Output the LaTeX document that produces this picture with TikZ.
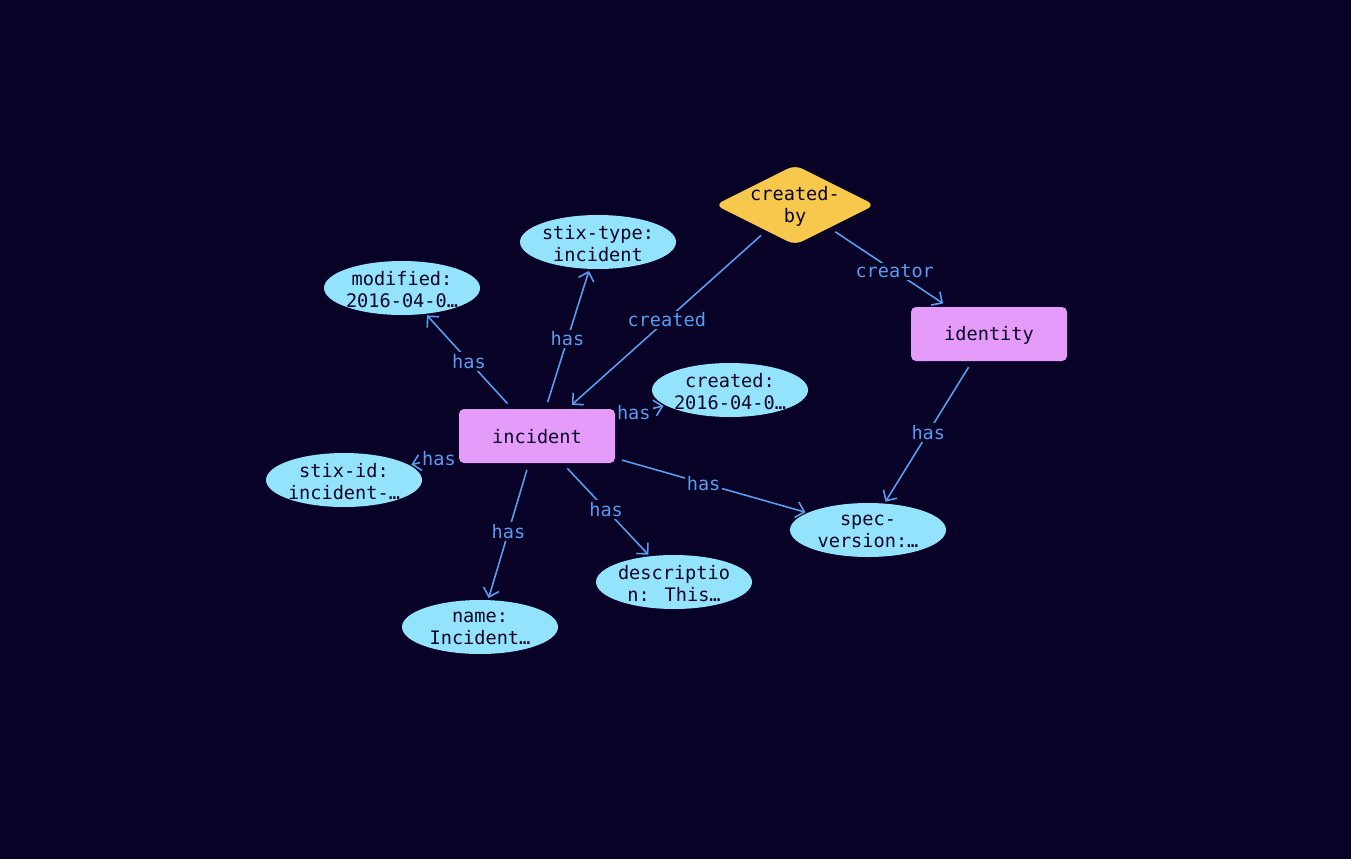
\documentclass[tikz,border=0pt]{standalone}
\usepackage{fontspec}
\newfontfamily\monof{DejaVu Sans Mono}
\usetikzlibrary{shapes.geometric,arrows.meta}
\definecolor{bg}{HTML}{070226}
\definecolor{edgec}{HTML}{5A9BEF}
\definecolor{entc}{HTML}{E49BF9}
\definecolor{attrc}{HTML}{93E3FC}
\definecolor{relc}{HTML}{F6C84B}
\definecolor{ink}{HTML}{0A0524}
\pgfdeclarelayer{backlayer}
\pgfdeclarelayer{edgelayer}
\pgfsetlayers{backlayer,edgelayer,main}
\begin{document}
\begin{tikzpicture}[x=1pt,y=-1pt,
 every node/.style={font=\monof\fontsize{18.6}{22}\selectfont},
 entity/.style={rectangle, rounded corners=5pt, fill=entc, minimum width=156pt, minimum height=54pt, inner sep=0pt, label={[txt,yshift=-1pt]center:{#1}}},
 attr/.style={ellipse, fill=attrc, minimum width=156pt, minimum height=54pt, inner sep=0pt, label={[txt,yshift=-1.5pt]center:{#1}}},
 txt/.style={text=ink, align=center, inner sep=0pt},
 rel/.style={diamond, fill=relc, minimum width=160pt, minimum height=80pt, inner sep=0pt, rounded corners=8pt, label={[txt,yshift=-1.5pt]center:{#1}}},
 conn/.style={draw=edgec, line width=1.6pt, -{Straight Barb[length=8pt,width=16pt]}, shorten <=7pt, shorten >=2pt},
 torect/.style={shorten >=6pt},
 lbl/.style={fill=bg, text=edgec, inner sep=2pt},
]
\begin{pgfonlayer}{backlayer}
\fill[bg] (0,0) rectangle (1351,859);
\end{pgfonlayer}
\useasboundingbox (0,0) rectangle (1351,859);

\node[entity={incident}] (incident) at (537,436) {};
\node[entity={identity}] (identity) at (989,334) {};
\node[rel={created-\\by}] (createdby) at (795,205) {};
\node[attr={stix-type:\\incident}] (stixtype) at (598,242) {};
\node[attr={modified:\\2016-04-0…}] (modified) at (402,288) {};
\node[attr={created:\\2016-04-0…}] (created) at (730,390) {};
\node[attr={stix-id:\\incident-…}] (stixid) at (344,480) {};
\node[attr={name:\\Incident…}] (name) at (480,627) {};
\node[attr={descriptio\\n: This…}] (descr) at (674,582) {};
\node[attr={spec-\\version:…}] (specv) at (868,530) {};

\begin{pgfonlayer}{edgelayer}
\draw[conn] (incident) -- node[lbl] {has} (modified);
\draw[conn] (incident) -- node[lbl] {has} (stixtype);
\draw[conn, torect] (createdby) -- node[lbl] {created} (incident);
\draw[conn, torect] (createdby) -- node[lbl, pos=0.55] {creator} (identity);
\draw[conn] (incident) -- node[lbl, pos=0.37] {has} (created);
\draw[conn] (incident) -- node[lbl, pos=0.4] {has} (stixid);
\draw[conn] (incident) -- node[lbl] {has} (name);
\draw[conn] (incident) -- node[lbl] {has} (descr);
\draw[conn] (incident) -- node[lbl, pos=0.46] {has} (specv);
\draw[conn] (identity) -- node[lbl] {has} (specv);
\end{pgfonlayer}
\end{tikzpicture}
\end{document}
